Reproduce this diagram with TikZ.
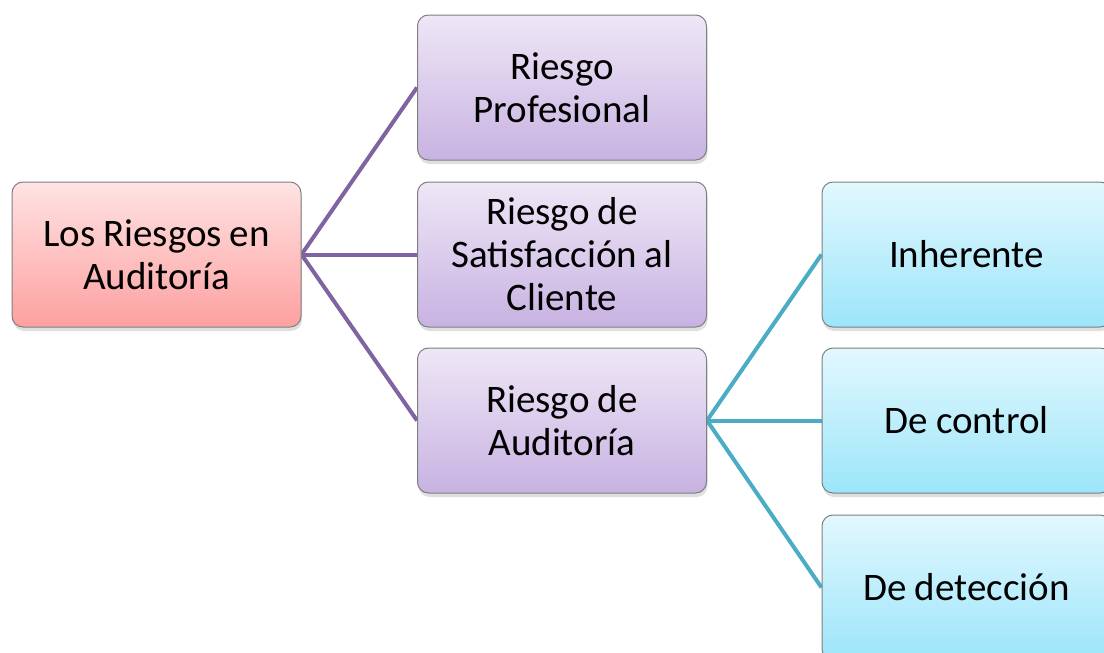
\documentclass[tikz,border=0pt]{standalone}
\usepackage{fontspec}
\setmainfont{Carlito}
\usetikzlibrary{shadows,backgrounds}
\definecolor{rootT}{HTML}{FFE3E3}
\definecolor{rootB}{HTML}{FDA0A0}
\definecolor{purT}{HTML}{EEE7F6}
\definecolor{purB}{HTML}{C8B2E2}
\definecolor{bluT}{HTML}{E2F8FE}
\definecolor{bluB}{HTML}{9CE5FA}
\definecolor{purLine}{HTML}{8064A2}
\definecolor{tealLine}{HTML}{4BACC6}
\definecolor{edgeGray}{HTML}{7F7F7F}
\newcommand\tightspace{\spaceskip=7.5pt plus 1pt minus 1pt\relax}
\tikzset{
  box/.style={rectangle, rounded corners=11pt, draw=edgeGray, line width=1pt,
    minimum width=289pt, minimum height=145pt, align=center, text width=275pt,
    inner sep=0pt, font=\fontsize{39}{43}\selectfont,
    execute at begin node=\tightspace,
    drop shadow={shadow xshift=1pt, shadow yshift=-4pt, opacity=0.25}},
  rootbox/.style={box, top color=rootT, bottom color=rootB},
  purbox/.style={box, top color=purT, bottom color=purB},
  blubox/.style={box, top color=bluT, bottom color=bluB},
  purconn/.style={draw=purLine, line width=4pt},
  tealconn/.style={draw=tealLine, line width=4pt}
}
\begin{document}
\begin{tikzpicture}[x=1pt,y=-1pt]
\useasboundingbox (0,0) rectangle (1104,653);
\clip (0,0) rectangle (1104,653);
\node[rootbox] (root) at (156.5,254.5) {Los Riesgos en\\Auditoría};
\node[purbox] (prof) at (562,87.5) {Riesgo\\Profesional};
\node[purbox] (sat) at (562,254.5) {Riesgo de\\Satisfacción al\\Cliente};
\node[purbox] (aud) at (562,420.5) {Riesgo de\\Auditoría};
\node[blubox] (inh) at (966.5,254.5) {Inherente};
\node[blubox] (ctl) at (966.5,420.5) {De control};
\node[blubox] (det) at (966.5,587.5) {De detección};
\begin{scope}[on background layer]
\draw[purconn] (root.east) -- (prof.west);
\draw[purconn] (root.east) -- (sat.west);
\draw[purconn] (root.east) -- (aud.west);
\draw[tealconn] (aud.east) -- (inh.west);
\draw[tealconn] (aud.east) -- (ctl.west);
\draw[tealconn] (aud.east) -- (det.west);
\end{scope}
\end{tikzpicture}
\end{document}
